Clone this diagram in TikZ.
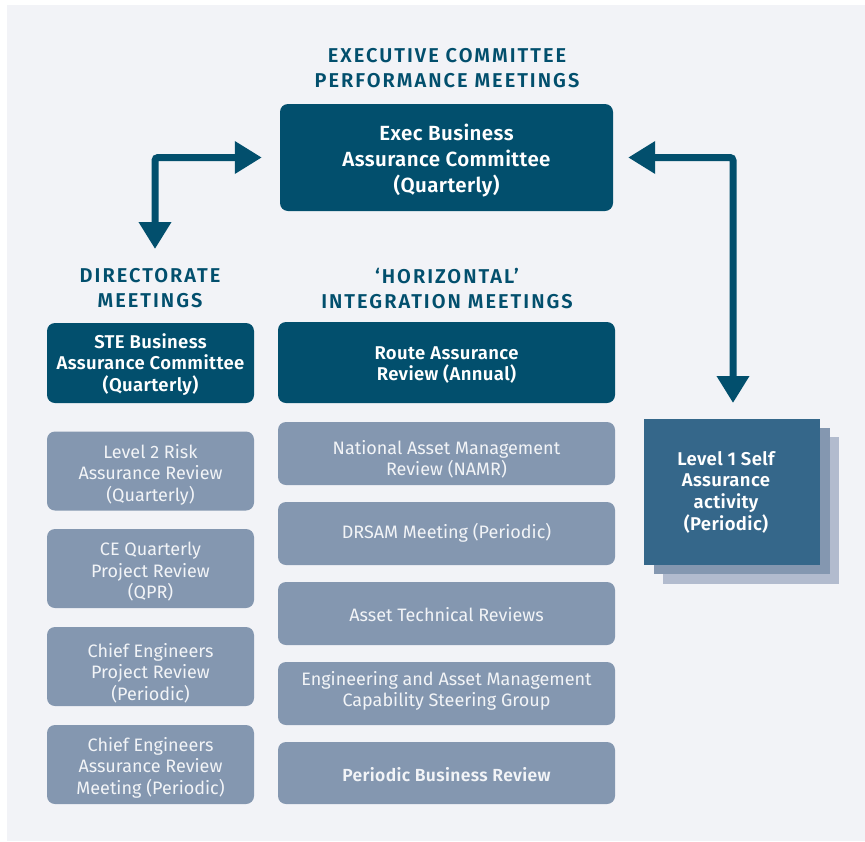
\documentclass[tikz,border=0pt]{standalone}
\usepackage{fontspec}
\setmainfont{Fira Sans}
\newfontfamily\semib{Fira Sans SemiBold}[LetterSpace=2]
\newfontfamily\headf{Fira Sans SemiBold}[LetterSpace=10]
\usetikzlibrary{arrows.meta}
\definecolor{bgc}{HTML}{F2F3F7}
\definecolor{darkc}{HTML}{024F6D}
\definecolor{grayc}{HTML}{8497B0}
\definecolor{lightc}{HTML}{B2BBCE}
\definecolor{frontc}{HTML}{35678A}
\definecolor{txtc}{HTML}{F2F4F7}
\tikzset{
  heading/.style={text=darkc, font=\headf\fontsize{20}{25}\selectfont, align=center, inner sep=0pt},
  darkbox/.style={fill=darkc, rounded corners=8pt, inner sep=0pt},
  graybox/.style={fill=grayc, rounded corners=8pt, inner sep=0pt},
  darktext/.style={text=white, align=center, inner sep=0pt, font=\semib\fontsize{18.5}{21.7}\selectfont},
  graytext/.style={text=txtc, align=center, inner sep=0pt, font=\fontsize{18}{21.5}\selectfont},
  leftcol/.style={minimum width=207pt},
  midcol/.style={minimum width=337pt},
  arr/.style={draw=darkc, line width=7pt, rounded corners=3pt, {Triangle[width=31pt,length=27pt]}-{Triangle[width=31pt,length=27pt]}},
}
\begin{document}
\begin{tikzpicture}[x=1pt,y=-1pt]
\useasboundingbox (0,0) rectangle (865,841);
\fill[bgc] (7,5) rectangle (865,841);

% headings
\node[heading] (h1) at (447,68.5) {EXECUTIVE COMMITTEE\\PERFORMANCE MEETINGS};
\node[heading] (h2) at (150,288.5) {DIRECTORATE\\MEETINGS};
\node[heading] (h3) at (447,288.5) {‘HORIZONTAL’\\INTEGRATION MEETINGS};

% exec box
\node[darkbox, minimum width=333pt, minimum height=107pt] (exec) at (446.5,157.5) {};
\node[darktext, font=\semib\fontsize{20.5}{26}\selectfont] (exect) at (446.5,161) {Exec Business\\Assurance Committee\\(Quarterly)};

% directorate column
\node[darkbox, leftcol, minimum height=80pt] (ste) at (150.5,363) {};
\node[darktext] (stet) at (150.5,364.5) {STE Business\\Assurance Committee\\(Quarterly)};
\node[graybox, leftcol, minimum height=79pt] (l2) at (150.5,471) {};
\node[graytext] (l2t) at (150.5,474.5) {Level 2 Risk\\Assurance Review\\(Quarterly)};
\node[graybox, leftcol, minimum height=79pt] (ce) at (150.5,568.5) {};
\node[graytext] (cet) at (150.5,572) {CE Quarterly\\Project Review\\(QPR)};
\node[graybox, leftcol, minimum height=79pt] (cep) at (150.5,666.5) {};
\node[graytext] (cept) at (150.5,673) {Chief Engineers\\Project Review\\(Periodic)};
\node[graybox, leftcol, minimum height=79pt] (cea) at (150.5,764.5) {};
\node[graytext] (ceat) at (150.5,767.5) {Chief Engineers\\Assurance Review\\Meeting (Periodic)};

% horizontal column
\node[darkbox, midcol, minimum height=81pt] (route) at (446.5,362.5) {};
\node[darktext] (routet) at (446.5,365) {Route Assurance\\Review (Annual)};
\node[graybox, midcol, minimum height=63pt] (namr) at (446.5,453.5) {};
\node[graytext] (namrt) at (446.5,459.5) {National Asset Management\\Review (NAMR)};
\node[graybox, midcol, minimum height=63pt] (drsam) at (446.5,533.5) {};
\node[graytext] (drsamt) at (446.5,533) {DRSAM Meeting (Periodic)};
\node[graybox, midcol, minimum height=63pt] (atr) at (446.5,613.5) {};
\node[graytext] (atrt) at (446.5,615) {Asset Technical Reviews};
\node[graybox, midcol, minimum height=63pt] (eam) at (446.5,693.5) {};
\node[graytext] (eamt) at (446.5,691) {Engineering and Asset Management\\Capability Steering Group};
\node[graybox, midcol, minimum height=62pt] (pbr) at (446.5,773) {};
\node[graytext, font=\semib\fontsize{17.5}{21.5}\selectfont] (pbrt) at (446.5,775) {Periodic Business Review};

% level 1 stack
\fill[lightc] (663,437) rectangle (839,584);
\fill[grayc] (654,428) rectangle (830,574);
\node[fill=frontc, minimum width=176pt, minimum height=146pt, inner sep=0pt] (lvl1) at (732,492) {};
\node[darktext] (lvl1t) at (726,492) {Level 1 Self\\Assurance\\activity\\(Periodic)};

% arrows
\coordinate (lt) at (155,249);
\coordinate (rb) at (733,403);
\draw[arr] (lt) |- ([xshift=-18pt]exec.west);
\draw[arr] ([xshift=15pt]exec.east) -| (rb);
\end{tikzpicture}
\end{document}
